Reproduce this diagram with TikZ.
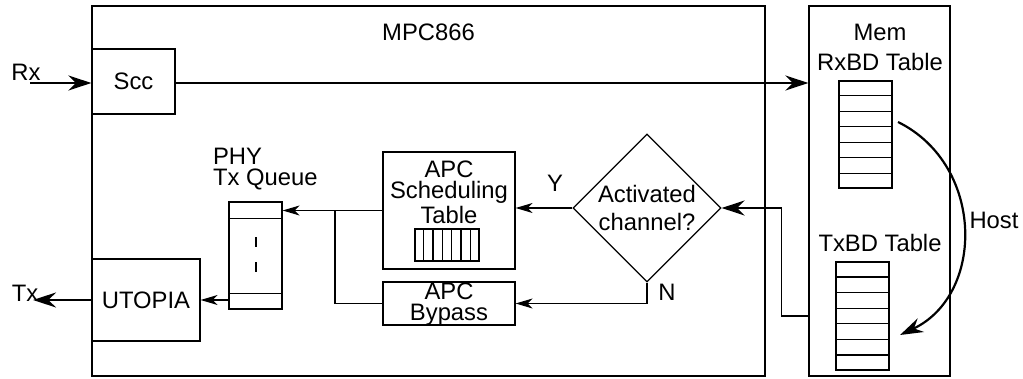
\documentclass[tikz,border=0pt]{standalone}
\usepackage{fontspec}
\setmainfont{Liberation Sans}
\usetikzlibrary{arrows.meta,shapes.geometric,calc}

\begin{document}
\begin{tikzpicture}[x=0.5pt,y=-0.5pt,
    font=\fontsize{11.9}{13}\selectfont,
    box/.style={draw, line width=0.6pt, inner sep=0pt},
    thin/.style={line width=0.6pt},
    bold/.style={line width=1.1pt},
    arr/.style={-{Stealth[length=8.5pt,width=5pt,inset=2.5pt]}},
    bigarr/.style={-{Stealth[length=11.5pt,width=7.5pt,inset=3.8pt]}}]
    \useasboundingbox (0,0) rectangle (1023,379);
    % chip and memory
    \node[box, minimum width=336.5pt, minimum height=185pt] (mpc) at (428.5,191) {};
    \node (mpclbl) at (428.5,32) {MPC866};
    \node[box, minimum width=70.5pt, minimum height=185pt] (mem) at (879.5,191) {};
    \node (memlbl) at (880,32) {Mem};
    \node (rxlbl) at (880,62) {RxBD Table};
    \node (txlbl) at (880,243) {TxBD Table};
    % blocks
    \node[box, minimum width=41.5pt, minimum height=32.5pt] (scc) at (133.5,81.5) {Scc};
    \node[box, minimum width=54pt, minimum height=41pt] (utopia) at (146,300) {UTOPIA};
    \node[box, minimum width=26.5pt, minimum height=53.5pt] (queue) at (255.5,255.5) {};
    \draw[thin] ($(queue.north west)+(0,17)$) -- ($(queue.north east)+(0,17)$);
    \draw[thin] ($(queue.south west)+(0,-16)$) -- ($(queue.south east)+(0,-16)$);
    \draw[line width=1pt] ($(queue.center)+(0,-18)$) -- ++(0,10);
    \draw[line width=1pt] ($(queue.center)+(0,7)$) -- ++(0,10);
    \node[anchor=west] (phy) at (206,156) {PHY};
    \node[anchor=west] (txq) at (206,179) {Tx Queue};
    \node[box, minimum width=66pt, minimum height=58.5pt] (sched) at (449,210.5) {};
    \node[align=center, font=\fontsize{11.9}{10.8}\selectfont] (schedlbl) at (449,192) {APC\\Scheduling\\Table};
    \node[box, minimum width=32pt, minimum height=16pt] (slots) at (447,245) {};
    \foreach \i in {1,...,6}
        \draw[thin] ($(slots.north west)!\i/7!(slots.north east)$) -- ($(slots.south west)!\i/7!(slots.south east)$);
    \node[box, minimum width=66pt, minimum height=21.5pt] (bypass) at (449,303.5) {};
    \node[align=center, font=\fontsize{11.9}{10.6}\selectfont] (bypasslbl) at (449,304.5) {APC\\Bypass};
    \node[box, diamond, minimum width=74pt, minimum height=74pt, align=center, font=\fontsize{11.9}{14}\selectfont] (act) at (647,208) {Activated\\channel?};
    \node[box, minimum width=26.5pt, minimum height=53.5pt] (rxbd) at (865.5,134.5) {};
    \node[box, minimum width=26.5pt, minimum height=54pt] (txbd) at (862.5,316) {};
    \foreach \t in {rxbd,txbd}
        \foreach \i in {1,...,6}
            \draw[thin] ($(\t.north west)!\i/7!(\t.south west)$) -- ($(\t.north east)!\i/7!(\t.south east)$);
    % connectors
    \coordinate (rxin) at (30,83);
    \node (rx) at (26,72) {Rx};
    \draw[bold,bigarr] (rxin) -- (rxin -| scc.west);
    \draw[bold,bigarr] (scc.east |- rxin) -- (rxin -| mem.west);
    \coordinate (txout) at (33,300);
    \node (tx) at (25,293) {Tx};
    \draw[bold,bigarr] (utopia.west) -- (txout);
    \draw[thin,arr] (queue.west |- utopia) -- (utopia.east);
    \coordinate (jn) at (335,210.5);
    \draw[thin,arr] (sched.west) -- (jn) -- (queue.east |- jn);
    \draw[thin] (bypass.west) -| (jn);
    \draw[thin,arr] (act.west) -- (act.west -| sched.east);
    \node (y) at (555,183) {Y};
    \draw[thin,arr] (act.south) |- (bypass.east);
    \node (n) at (667,292) {N};
    \coordinate (bend) at ($(act.east)+(60,0)$);
    \draw[thin] (mem.west |- txbd) -| (bend);
    \draw[bold,bigarr] (bend) -- (act.east);
    \coordinate (hs) at (898,122);
    \coordinate (he) at (900,335);
    \draw[bold,bigarr] (hs) .. controls (985,165) and (985,295) .. (he);
    \node (host) at (994,220) {Host};
\end{tikzpicture}
\end{document}
